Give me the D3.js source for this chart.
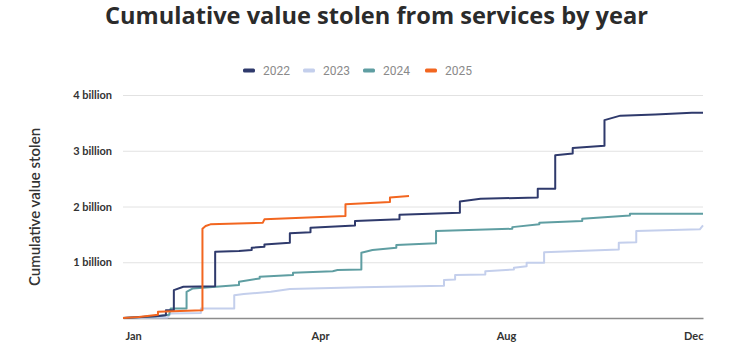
<!DOCTYPE html>
<html><head><meta charset="utf-8">
<script src="https://cdn.jsdelivr.net/npm/d3@7"></script>
<style>html,body{margin:0;padding:0;background:#fff;}svg{display:block;font-family:Lato,"Noto Sans",sans-serif;}</style>
</head><body>
<svg id="chart" width="742" height="355"></svg>
<script>
// ---- data (day of year, cumulative value in billions USD) ----
const seriesNames = ["2022", "2023", "2024", "2025"];
const seriesColors = ["#2f3a6c", "#c4cfec", "#5f9ea2", "#f26620"];
const s2022 = [[0,0],[20,0.03],[27,0.05],[27,0.14],[32,0.14],[32,0.50],[38,0.56],[58,0.57],[58,1.19],[73,1.20],[81,1.22],[81,1.26],[89,1.28],[89,1.32],[105,1.35],[105,1.52],[118,1.54],[118,1.62],[146,1.66],[146,1.74],[174,1.77],[174,1.85],[212,1.89],[212,2.09],[225,2.14],[261,2.16],[261,2.32],[272,2.32],[272,2.92],[283,2.95],[283,3.05],[303,3.09],[303,3.55],[313,3.63],[335,3.65],[358,3.68],[365,3.68]];
const s2023 = [[0,0],[28,0.01],[30,0.08],[49,0.09],[49,0.17],[70,0.17],[70,0.41],[76,0.43],[93,0.47],[105,0.52],[150,0.55],[202,0.58],[202,0.68],[209,0.69],[209,0.77],[228,0.78],[228,0.84],[246,0.87],[246,0.90],[254,0.93],[254,0.99],[265,0.99],[265,1.18],[312,1.23],[312,1.35],[323,1.36],[323,1.56],[363,1.59],[365,1.66]];
const s2024 = [[0,0],[22,0.03],[29,0.06],[30,0.17],[40,0.17],[40,0.47],[44,0.53],[73,0.59],[73,0.65],[86,0.71],[86,0.74],[107,0.77],[107,0.81],[132,0.84],[135,0.86],[150,0.87],[150,1.17],[157,1.22],[172,1.26],[172,1.31],[197,1.34],[197,1.56],[245,1.60],[245,1.63],[262,1.68],[262,1.71],[289,1.74],[289,1.78],[319,1.84],[319,1.87],[365,1.87]];
const s2025 = [[0,0],[10,0.02],[22,0.06],[22,0.11],[50,0.14],[50,1.60],[52,1.65],[55,1.68],[88,1.71],[89,1.77],[140,1.83],[140,2.04],[168,2.08],[168,2.16],[180,2.19]];
const seriesData = [s2022, s2023, s2024, s2025];
const yTicks = [1, 2, 3, 4];
const yTickLabels = ["1 billion", "2 billion", "3 billion", "4 billion"];
const xTickDays = [0, 124, 241, 365];
const xTickLabels = ["Jan", "Apr", "Aug", "Dec"];
const titleText = "Cumulative value stolen from services by year";
const yTitleText = "Cumulative value stolen";

// ---- drawing ----
const svg = d3.select("#chart");
svg.append("rect").attr("width", 742).attr("height", 355).attr("fill", "#fff");
const x = d3.scaleLinear().domain([0, 365]).range([123, 703]);
const y = d3.scaleLinear().domain([0, 4]).range([318, 95]);

svg.append("text").attr("x", 376.5).attr("y", 23.5).attr("text-anchor", "middle")
  .attr("font-family", "'Open Sans', sans-serif")
  .attr("font-size", 23.6).attr("font-weight", 700).attr("fill", "#2b2b2b").text(titleText);

// legend
const lg = svg.append("g");
const legX = [243, 303, 363, 425];
seriesNames.forEach((n, i) => {
  lg.append("rect").attr("x", legX[i]).attr("y", 68.5).attr("width", 12).attr("height", 4).attr("rx", 1.5)
    .attr("fill", seriesColors[i]);
  lg.append("text").attr("x", legX[i] + 20).attr("y", 75).attr("font-size", 12).attr("fill", "#8a8a8a")
    .attr("font-family", "Roboto, sans-serif").text(n);
});

// grid
const gy = svg.append("g").attr("transform", "translate(123,0)")
  .call(d3.axisLeft(y).tickValues(yTicks).tickSize(-580).tickFormat((d, i) => yTickLabels[i]));
gy.select(".domain").remove();
gy.selectAll(".tick line").attr("stroke", "#e2e2e2").attr("stroke-width", 1);
gy.selectAll(".tick text").attr("x", -11).attr("font-size", 11).attr("font-weight", 700)
  .attr("fill", "#333").attr("font-family", "Lato, sans-serif");

// x axis
const gx = svg.append("g").attr("transform", "translate(0,318)")
  .call(d3.axisBottom(x).tickValues(xTickDays).tickSize(0).tickFormat((d, i) => xTickLabels[i]));
gx.select(".domain").attr("stroke", "#8c8c8c").attr("stroke-width", 1.6);
gx.selectAll(".tick text").attr("y", 14).attr("font-size", 11).attr("font-weight", 700)
  .attr("fill", "#333").attr("font-family", "Lato, sans-serif")
  .attr("text-anchor", (d, i) => i === 0 ? "start" : (i === xTickDays.length - 1 ? "end" : "middle"))
  .attr("dx", (d, i) => i === 0 ? 2 : 0);

// y title
svg.append("text").attr("transform", "translate(40,207) rotate(-90)").attr("text-anchor", "middle")
  .attr("font-size", 15).attr("font-weight", 600).attr("fill", "#333").text(yTitleText);

// lines
const line = d3.line().x(d => x(d[0])).y(d => y(d[1]));
[1, 2, 0, 3].forEach(i => {
  svg.append("path").datum(seriesData[i]).attr("d", line).attr("fill", "none")
    .attr("stroke", seriesColors[i]).attr("stroke-width", 2).attr("stroke-linejoin", "round");
});
</script>
</body></html>
